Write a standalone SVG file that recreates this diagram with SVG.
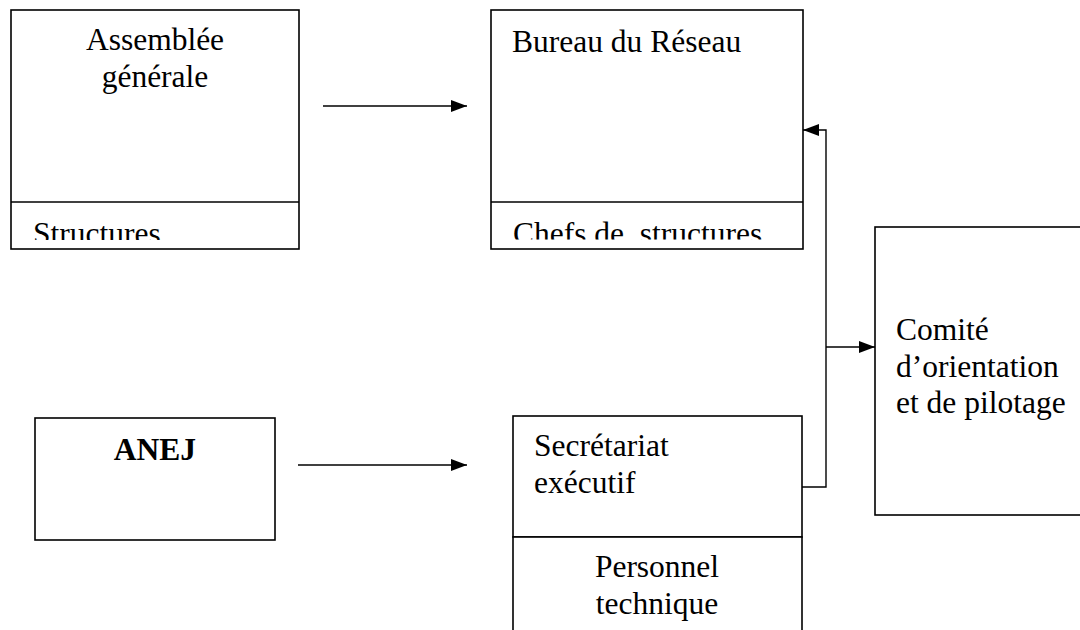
<svg xmlns="http://www.w3.org/2000/svg" width="1080" height="630" viewBox="0 0 1080 630">
<style>
.box{fill:#fff;stroke:#000;stroke-width:1.6}
.ln{fill:none;stroke:#000;stroke-width:1.4}
text{font-family:"Liberation Serif","Times New Roman",serif;font-size:31.5px;fill:#000}
.c{text-anchor:middle}
.b{font-weight:bold}
</style>
<defs>
<marker id="ah" viewBox="0 0 16 12" refX="16" refY="6" markerWidth="16" markerHeight="12" markerUnits="userSpaceOnUse" orient="auto">
<path d="M0,0 L16,6 L0,12 Z" fill="#000"/>
</marker>
<clipPath id="clipA"><rect x="11" y="203" width="288" height="37"/></clipPath>
<clipPath id="clipB"><rect x="491" y="203" width="312" height="36.5"/></clipPath>
</defs>
<rect width="1080" height="630" fill="#fff"/>
<g id="assemblee">
<rect class="box" x="11" y="10" width="288" height="239"/>
<line class="ln" x1="11" y1="202" x2="299" y2="202"/>
<text class="c" x="155" y="50">Assemblée</text>
<text class="c" x="155" y="87">générale</text>
<text x="33" y="244" clip-path="url(#clipA)">Structures</text>
</g>
<g id="bureau">
<rect class="box" x="491" y="10" width="312" height="239"/>
<line class="ln" x1="491" y1="202" x2="803" y2="202"/>
<text x="512" y="52">Bureau du Réseau</text>
<text x="513" y="244" clip-path="url(#clipB)" xml:space="preserve">Chefs de  structures</text>
</g>
<g id="comite">
<rect class="box" x="875" y="227" width="220" height="288"/>
<text x="896" y="340">Comité</text>
<text x="896" y="377">d’orientation</text>
<text x="896" y="413">et de pilotage</text>
</g>
<g id="anej">
<rect class="box" x="35" y="418" width="240" height="122"/>
<text class="c b" x="155" y="460">ANEJ</text>
</g>
<g id="secretariat">
<rect class="box" x="513" y="416" width="289" height="121"/>
<text x="534" y="456">Secrétariat</text>
<text x="534" y="493">exécutif</text>
</g>
<g id="personnel">
<rect class="box" x="513" y="537" width="289" height="110"/>
<text class="c" x="657" y="577">Personnel</text>
<text class="c" x="657" y="614">technique</text>
</g>
<g id="connectors">
<line class="ln" x1="323" y1="106" x2="467" y2="106" marker-end="url(#ah)"/>
<line class="ln" x1="298" y1="465" x2="467" y2="465" marker-end="url(#ah)"/>
<polyline class="ln" points="802,487 826,487 826,130 803,130" marker-end="url(#ah)"/>
<line class="ln" x1="826" y1="347" x2="875" y2="347" marker-end="url(#ah)"/>
</g>
</svg>
